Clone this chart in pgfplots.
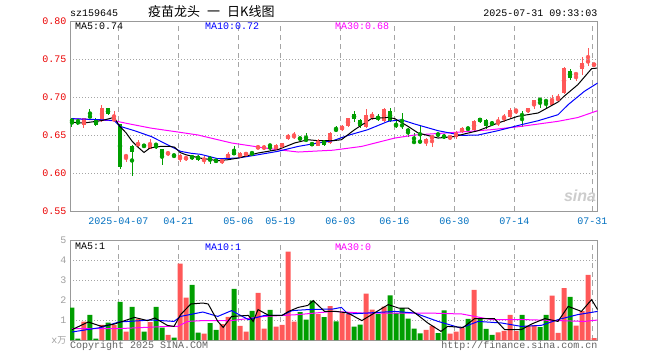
\documentclass[border=0pt]{standalone}
\usepackage{pgfplots}
\pgfplotsset{compat=1.18}
\usepackage{pgfplotstable}
\usepackage{fontspec}
\setmainfont{Liberation Mono}
\newfontfamily\cjk{Noto Sans CJK SC}
\newfontfamily\sinafont{Liberation Sans}
\definecolor{cRed}{RGB}{255,88,88}
\definecolor{cGreen}{RGB}{0,158,0}
\definecolor{frameG}{RGB}{153,153,153}
\definecolor{gridG}{RGB}{165,165,165}
\definecolor{dateB}{RGB}{0,112,192}
\definecolor{tickR}{RGB}{235,0,0}
\definecolor{volG}{RGB}{160,160,160}
\definecolor{txtG}{RGB}{100,100,100}
\definecolor{maM}{RGB}{255,0,255}
\definecolor{maB}{RGB}{0,0,255}

\pgfplotstableread{
i O H L C V
-6 .663 .673 .659 .672 0.92
-3 .668 .689 .667 .685 0.76
-1 .668 .682 .667 .673 0.74
1 .6205 .625 .615 .624 0.42
3 .636 .643 .633 .640 1.06
5 .632 .645 .631 .640 0.90
8 .625 .629 .623 .6265 0.26
10 .618 .625 .614 .624 3.82
11 .6185 .623 .616 .620 2.12
14 .617 .622 .612 .6185 0.32
17 .614 .619 .612 .617 0.80
18 .620 .627 .618 .625 1.16
20 .621 .627 .620 .626 0.71
21 .624 .628 .622 .626 0.42
23 .632 .637 .631 .635 2.36
24 .631 .637 .630 .636 0.57
26 .631 .638 .630 .637 0.67
27 .634 .640 .633 .639 0.76
28 .645 .651 .644 .650 4.42
29 .6475 .654 .645 .649 0.92
33 .636 .645 .635 .644 1.30
35 .639 .654 .638 .653 1.70
37 .657 .663 .655 .662 1.35
38 .662 .673 .661 .672 1.30
41 .660 .684 .659 .676 2.32
42 .6745 .680 .670 .676 1.52
44 .668 .685 .667 .684 1.67
51 .639 .646 .636 .645 0.51
52 .645 .650 .634 .649 0.71
55 .645 .650 .644 .648 0.32
56 .648 .655 .645 .654 0.42
57 .654 .660 .653 .659 0.60
59 .656 .670 .655 .668 2.51
63 .664 .674 .662 .668 0.38
64 .6725 .677 .667 .674 0.46
65 .674 .685 .673 .683 1.26
66 .6815 .684 .678 .683 0.45
68 .680 .686 .679 .685 0.70
69 .689 .696 .6845 .6955 0.75
72 .690 .703 .689 .697 2.22
73 .6965 .7035 .6945 .698 0.36
74 .705 .739 .704 .738 2.60
76 .7295 .7315 .721 .731 0.72
77 .7365 .752 .7286 .745 1.45
78 .746 .764 .741 .7475 3.26
79 .741 .745 .740 .7445 0.10
}\redtab

\pgfplotstableread{
i O H L C V
-8 .6715 .672 .661 .666 1.62
-7 .669 .670 .663 .6675 0.07
-5 .675 .6845 .672 .6735 1.26
-4 .671 .672 .662 .663 0.07
-2 .685 .6855 .676 .677 0.87
0 .664 .665 .605 .608 1.91
2 .636 .637 .596 .628 1.66
4 .637 .638 .633 .635 0.42
6 .638 .639 .631 .6365 1.66
7 .632 .632 .611 .623 0.62
9 .624 .625 .620 .6225 0.12
12 .623 .624 .617 .619 2.76
13 .623 .624 .616 .617 0.37
15 .620 .623 .612 .618 0.85
16 .618 .619 .613 .614 0.51
19 .628 .635 .6235 .624 2.56
22 .627 .628 .623 .6255 1.46
25 .637 .638 .629 .6355 1.51
30 .646 .648 .643 .6445 1.40
31 .645 .652 .641 .642 1.02
32 .640 .641 .635 .636 1.97
34 .643 .644 .636 .637 1.15
36 .6575 .662 .654 .656 0.93
39 .678 .681 .667 .671 0.67
40 .670 .671 .659 .662 0.77
43 .674 .677 .668 .671 1.30
45 .681 .685 .667 .669 2.23
46 .6635 .668 .659 .662 1.35
47 .6635 .679 .658 .662 1.60
48 .658 .659 .648 .654 1.07
49 .6415 .653 .638 .640 0.57
50 .642 .662 .640 .6405 0.33
53 .6515 .653 .648 .650 0.35
54 .650 .651 .645 .646 1.48
58 .6595 .661 .655 .658 1.06
60 .672 .673 .666 .668 1.08
61 .670 .671 .658 .662 0.56
62 .667 .668 .662 .664 0.26
67 .677 .681 .661 .6755 1.26
70 .698 .699 .686 .695 0.64
71 .6955 .696 .686 .694 1.26
75 .734 .737 .723 .725 2.16
}\greentab

\pgfplotsset{
  kbase/.style={
    scale only axis, width=527.7pt, xmin=-8.333, xmax=79.617,
    axis line style={frameG, line width=1pt}, major tick length=0pt,
    xtick={-0.283,9.717,19.717,26.717,36.717,45.717,55.717,65.717,78.72},
    xmajorgrids, ymajorgrids,
    x grid style={dash pattern=on 5pt off 4pt, gridG, line width=0.9pt},
    y grid style={dash pattern=on 1pt off 2pt, gridG, line width=0.9pt},
    tick label style={font=\fontsize{10}{12}\selectfont},
    clip=true,
  },
  wick/.style={only marks, mark=none, color=#1, forget plot,
    error bars/.cd, y dir=both, y explicit, error mark=none,
    error bar style={line width=1pt, color=#1}},
  body/.style={only marks, mark=none, color=#1, forget plot,
    error bars/.cd, y dir=both, y explicit, error mark=none,
    error bar style={line width=4.8pt, color=#1}},
}

\begin{document}
\begin{tikzpicture}
\useasboundingbox (0,0) rectangle (660pt,360pt);
\fill[white] (0,0) rectangle (660pt,360pt);

% ---------------- price panel ----------------
\begin{axis}[kbase, at={(70pt,149pt)}, anchor=south west, height=190pt,
  ymin=0.55, ymax=0.80,
  ytick={0.55,0.60,0.65,0.70,0.75,0.80},
  yticklabels={0.55,0.60,0.65,0.70,0.75,0.80},
  yticklabel style={text=tickR},
  xticklabels={2025-04-07,04-21,05-06,05-19,06-03,06-16,06-30,07-14,07-31},
  xticklabel style={text=dateB, yshift=-3pt},
]
\addplot[wick=cRed] table[x=i, y expr={(\thisrow{H}+\thisrow{L})/2}, y error expr={(\thisrow{H}-\thisrow{L})/2}] {\redtab};
\addplot[body=cRed] table[x=i, y expr={(\thisrow{O}+\thisrow{C})/2}, y error expr={max(abs(\thisrow{C}-\thisrow{O})/2,0.00075)}] {\redtab};
\addplot[wick=cGreen] table[x=i, y expr={(\thisrow{H}+\thisrow{L})/2}, y error expr={(\thisrow{H}-\thisrow{L})/2}] {\greentab};
\addplot[body=cGreen] table[x=i, y expr={(\thisrow{O}+\thisrow{C})/2}, y error expr={max(abs(\thisrow{C}-\thisrow{O})/2,0.00075)}] {\greentab};
% MA30
\addplot[maM, line width=1pt] coordinates {(-8,0.6715) (-1,0.6688) (1.3,0.665) (5.2,0.659) (9.6,0.654) (13,0.650) (16.3,0.6438) (18.6,0.6395) (22.4,0.635) (24,0.633) (26.3,0.6307) (29.7,0.6276) (33,0.629) (35.5,0.630) (40.3,0.635) (45.8,0.646) (49.1,0.650) (56.9,0.654) (61.9,0.657) (66.9,0.6614) (73,0.668) (76.3,0.673) (79.6,0.682)};
% MA10
\addplot[maB, line width=1pt] coordinates {(-8,0.6715) (-3,0.670) (-1,0.669) (0,0.6614) (2.4,0.6557) (5.2,0.648) (7.9,0.6373) (10.1,0.6285) (11.8,0.626) (13.5,0.6245) (16.3,0.6188) (19.7,0.6197) (23,0.624) (26.3,0.6285) (29.7,0.635) (33,0.6395) (35.5,0.6425) (38,0.6495) (41.3,0.657) (44.7,0.668) (46.9,0.670) (49.1,0.6645) (53,0.6557) (57,0.6495) (59.7,0.650) (63,0.6557) (66.9,0.6636) (69.7,0.6688) (73,0.6767) (74.7,0.690) (77.4,0.7075) (79.6,0.7184)};
% MA5
\addplot[black, line width=1pt] coordinates {(-8,0.6667) (-6,0.6658) (-3,0.669) (-1,0.6732) (0,0.661) (1,0.653) (2,0.642) (3,0.634) (4,0.627) (5,0.633) (6.8,0.635) (8.3,0.635) (9.1,0.634) (10,0.627) (11,0.624) (13.3,0.6197) (16.3,0.6162) (18,0.6175) (19.7,0.6197) (23,0.6263) (26.3,0.6307) (29.1,0.6395) (31.3,0.6438) (33,0.6425) (35.5,0.6425) (36.9,0.6438) (39.1,0.657) (41.9,0.6715) (44.7,0.6732) (45.8,0.6715) (48,0.6614) (49.7,0.6526) (53,0.646) (55.8,0.648) (57.2,0.651) (59.7,0.6557) (63,0.6658) (66.3,0.6746) (69.7,0.679) (73,0.6934) (74,0.7009) (76.3,0.7162) (78.6,0.7373) (79.5,0.738)};
\end{axis}

% ---------------- volume panel ----------------
\begin{axis}[kbase, at={(70pt,20pt)}, anchor=south west, height=100pt,
  ymin=0, ymax=5,
  ytick={0,1,2,3,4,5},
  yticklabels={{x{\cjk\fontsize{9}{10}\selectfont 万}},1,2,3,4,5},
  yticklabel style={text=volG},
  xticklabels={},
]
\addplot[ybar, bar width=5pt, bar shift=0pt, fill=cRed, draw=none, forget plot] table[x=i, y=V] {\redtab};
\addplot[ybar, bar width=5pt, bar shift=0pt, fill=cGreen, draw=none, forget plot] table[x=i, y=V] {\greentab};
% MA30
\addplot[maM, line width=1pt] coordinates {(-8,0.57) (-0.2,0.57) (7.9,0.68) (9.6,0.68) (11.3,0.93) (13.8,0.97) (18.6,0.97) (24.1,1.18) (29.7,1.27) (35.5,1.43) (40.3,1.35) (45.8,1.35) (51.3,1.35) (57,1.3) (61.9,1.02) (67.4,1.02) (73,0.97) (77.4,0.93) (79.6,1.0)};
% MA10
\addplot[maB, line width=1pt] coordinates {(-8,0.4) (-3.1,0.63) (-0.2,0.9) (5.2,1.0) (9,0.93) (10.1,1.18) (13.8,1.4) (16.3,1.18) (18.6,1.47) (21.4,1.02) (24.1,1.23) (27,1.23) (28.7,1.47) (31.3,1.52) (35.5,1.55) (36.9,1.63) (38,1.3) (41.3,1.35) (45.8,1.43) (49.1,1.35) (53,0.93) (56.8,0.6) (59.7,0.93) (63.6,0.85) (66.9,0.68) (70.2,0.73) (73,1.02) (76.3,1.27) (79.6,1.43)};
% MA5
\addplot[black, line width=1pt] coordinates {(-8,0.52) (-5.3,0.9) (-3.1,0.68) (-0.9,0.8) (2.4,1.13) (4.6,0.97) (5.8,1.1) (7.9,0.73) (9,0.68) (10.1,1.27) (11.8,1.8) (13.8,1.85) (14.7,1.8) (16.3,0.93) (17.2,0.63) (18.6,1.18) (21.4,1.23) (22.2,0.93) (23,1.52) (24.8,1.23) (27,1.23) (28.1,1.43) (29.7,1.63) (31.3,1.73) (32.2,1.97) (34.1,1.43) (36,1.43) (38,1.35) (40.3,0.97) (44.7,1.77) (46.4,1.6) (48,1.6) (49.7,1.23) (51.3,0.85) (53.5,0.43) (54.6,0.68) (57.2,0.63) (59.1,1.07) (62.4,1.07) (64.1,0.52) (66.9,0.52) (68.6,0.8) (70.8,1.07) (73,0.93) (74.7,1.68) (76.9,1.43) (78.6,2.02) (79.6,1.52)};
\end{axis}

% ---------------- texts ----------------
\begin{scope}[every node/.style={inner sep=0pt, font=\fontsize{10}{12}\selectfont}]
\node[anchor=west] at (70pt,347pt) {sz159645};
\node[anchor=west, font=\cjk\fontsize{13}{14}\selectfont] at (148pt,348pt) {疫苗龙头\hspace{7pt}一\hspace{7pt}日K线图};
\node[anchor=east] at (597.5pt,347pt) {2025-07-31 09:33:03};
\node[anchor=west] at (75pt,334pt) {MA5:0.74};
\node[anchor=west, text=maB] at (205pt,334pt) {MA10:0.72};
\node[anchor=west, text=maM] at (335pt,334pt) {MA30:0.68};
\node[anchor=west] at (75pt,113.3pt) {MA5:1};
\node[anchor=west, text=maB] at (205pt,113.3pt) {MA10:1};
\node[anchor=west, text=maM] at (335pt,113.3pt) {MA30:0};
\node[anchor=west, text=txtG] at (70pt,14pt) {Copyright 2025 SINA.COM};
\node[anchor=east, text=txtG] at (597.5pt,14pt) {http://finance.sina.com.cn};
\node[text={rgb,255:red,205;green,205;blue,205}, font=\sinafont\bfseries\itshape\fontsize{16}{16}\selectfont] at (580pt,164pt) {sina};
\end{scope}
\end{tikzpicture}
\end{document}
